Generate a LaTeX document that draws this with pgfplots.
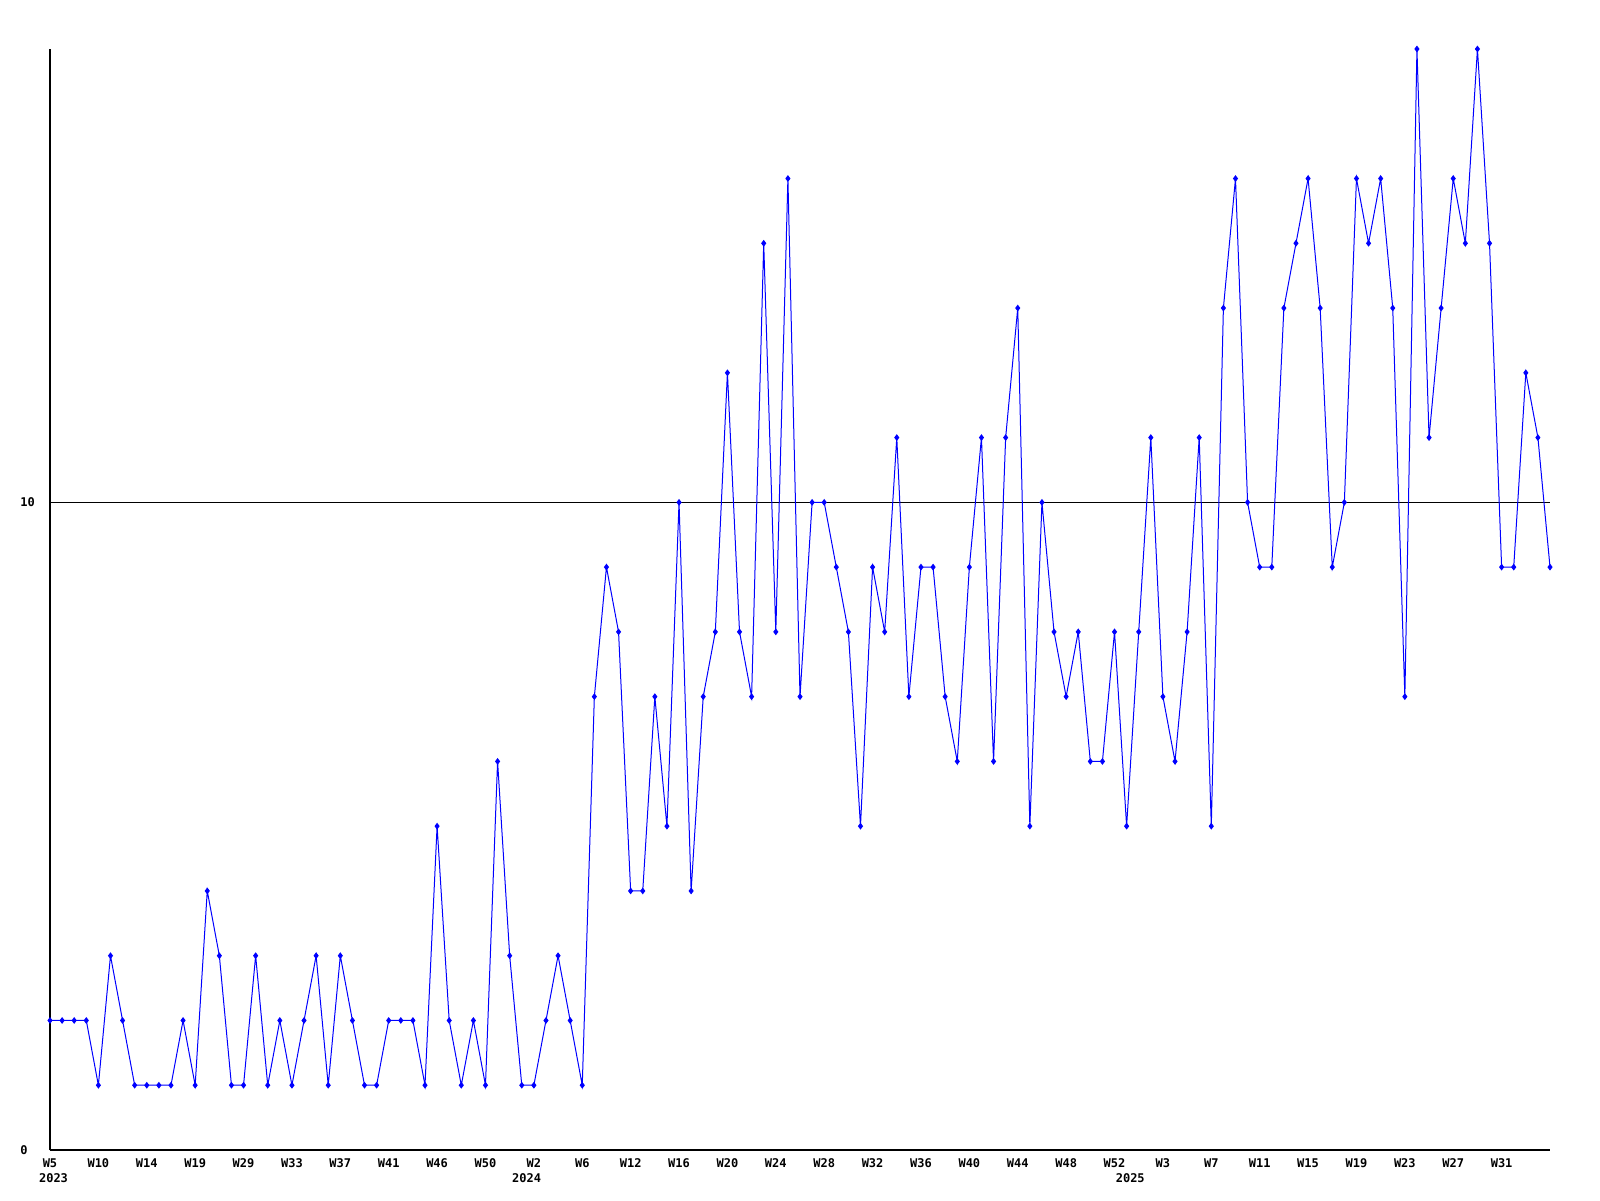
\documentclass[border=0pt]{standalone}
\usepackage{pgfplots}
\pgfplotsset{compat=1.18}
\usepackage{fontspec}
\setmainfont{DejaVu Sans Mono}
\begin{document}
\fontsize{6pt}{7pt}\selectfont\bfseries
\begin{tikzpicture}
\useasboundingbox (-25pt,-25pt) rectangle (775pt,575pt);
\begin{axis}[
  at={(0,0)}, anchor=south west,
  scale only axis, width=750pt, height=550.5pt,
  xmin=0, xmax=124, ymin=0, ymax=17,
  axis lines*=left,
  axis line style={black, line width=0.6pt},
  xtick={0,4,...,120},
  xticklabels={W5,W10,W14,W19,W29,W33,W37,W41,W46,W50,W2,W6,W12,W16,W20,W24,W28,W32,W36,W40,W44,W48,W52,W3,W7,W11,W15,W19,W23,W27,W31},
  ytick={0,10},
  ymajorgrids,
  grid style={black, line width=0.5pt, solid},
  major tick length=0pt,
  tick label style={font=\fontsize{6pt}{7pt}\selectfont\bfseries},
  xticklabel style={anchor=north, inner sep=0pt, yshift=-4pt},
  yticklabel style={anchor=west, inner sep=0pt, xshift=-15pt},
  /pgf/number format/assume math mode=true,
  clip=false,
]
\addplot[color={rgb,255:red,0;green,0;blue,255}, line width=0.5pt, mark=diamond*, mark size=1.3pt, mark options={solid}] table[x=i, y=v] {
i v
0 2
1 2
2 2
3 2
4 1
5 3
6 2
7 1
8 1
9 1
10 1
11 2
12 1
13 4
14 3
15 1
16 1
17 3
18 1
19 2
20 1
21 2
22 3
23 1
24 3
25 2
26 1
27 1
28 2
29 2
30 2
31 1
32 5
33 2
34 1
35 2
36 1
37 6
38 3
39 1
40 1
41 2
42 3
43 2
44 1
45 7
46 9
47 8
48 4
49 4
50 7
51 5
52 10
53 4
54 7
55 8
56 12
57 8
58 7
59 14
60 8
61 15
62 7
63 10
64 10
65 9
66 8
67 5
68 9
69 8
70 11
71 7
72 9
73 9
74 7
75 6
76 9
77 11
78 6
79 11
80 13
81 5
82 10
83 8
84 7
85 8
86 6
87 6
88 8
89 5
90 8
91 11
92 7
93 6
94 8
95 11
96 5
97 13
98 15
99 10
100 9
101 9
102 13
103 14
104 15
105 13
106 9
107 10
108 15
109 14
110 15
111 13
112 7
113 17
114 11
115 13
116 15
117 14
118 17
119 14
120 9
121 9
122 12
123 11
124 9
};
\node[anchor=center, inner sep=0pt, yshift=-14pt, font=\fontsize{6pt}{7pt}\selectfont\bfseries] at (axis cs:0.29,0) {2023};
\node[anchor=center, inner sep=0pt, yshift=-14pt, font=\fontsize{6pt}{7pt}\selectfont\bfseries] at (axis cs:39.4,0) {2024};
\node[anchor=center, inner sep=0pt, yshift=-14pt, font=\fontsize{6pt}{7pt}\selectfont\bfseries] at (axis cs:89.3,0) {2025};
\end{axis}
\end{tikzpicture}
\end{document}
